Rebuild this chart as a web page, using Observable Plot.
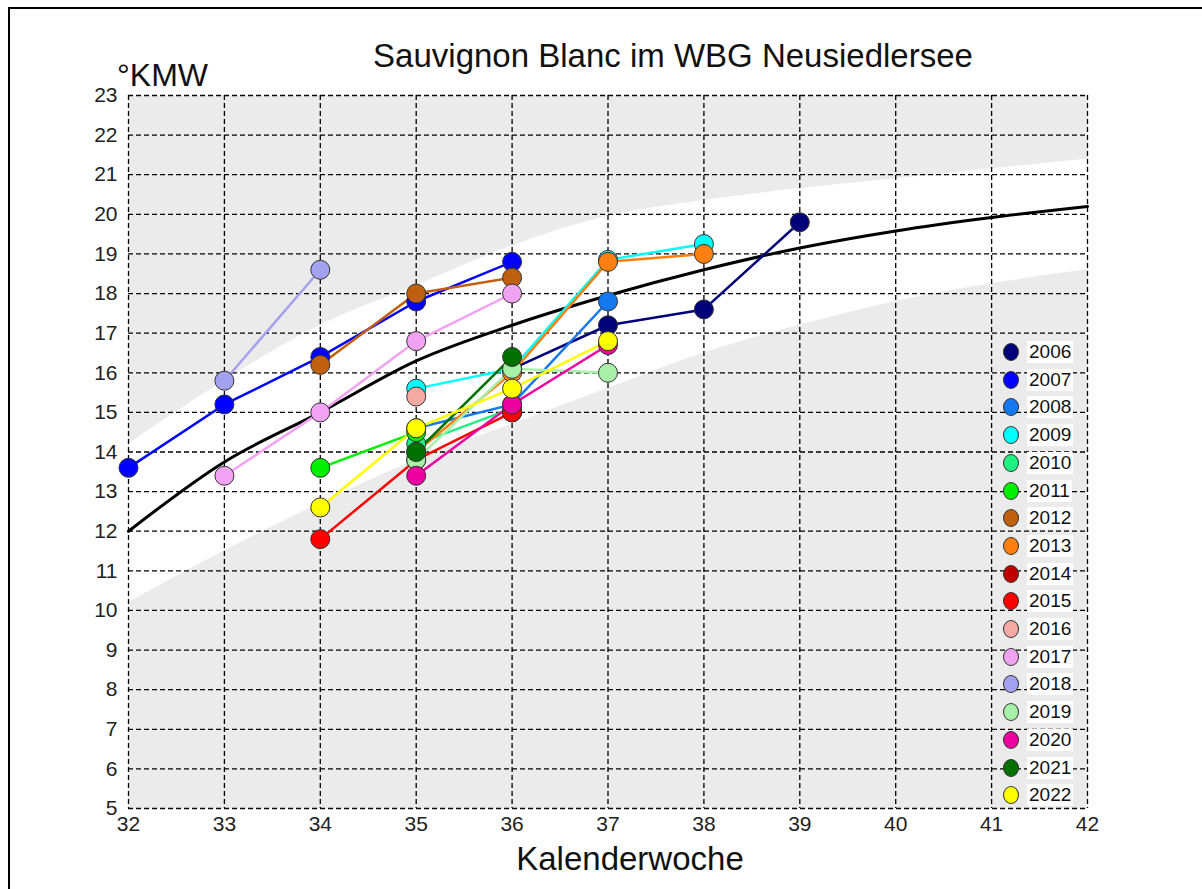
<!DOCTYPE html>
<html><head><meta charset="utf-8">
<script src="https://cdn.jsdelivr.net/npm/d3@7"></script>
<script src="https://cdn.jsdelivr.net/npm/@observablehq/plot@0.6"></script>
<style>
body{margin:0;background:#fff;font-family:"Liberation Sans",Arial,sans-serif;}
#wrap{position:relative;width:1202px;height:889px;overflow:hidden;background:#fff;}
#wrap svg{position:absolute;left:0;top:0;}
.txt{position:absolute;white-space:nowrap;line-height:1;color:#111;}
#border{position:absolute;left:8px;top:7px;right:0;bottom:0;border-top:2px solid #000;border-left:2px solid #000;}
.lg{position:absolute;}
.lg .sw{position:absolute;width:16px;height:18px;border-radius:50%;border:1px solid #333;box-sizing:border-box;}
.lg .lb{position:absolute;background:#fff;font-size:19px;line-height:22px;height:22px;padding:0 2px;color:#111;}
</style></head><body><div id="wrap"><div id="border"></div></div><script>
// Categories
const years = [2006,2007,2008,2009,2010,2011,2012,2013,2014,2015,2016,2017,2018,2019,2020,2021,2022];
const yearColors = ["#00007a","#0000ff","#1478f0","#00ffff","#20f080","#00f000","#c0600f","#ff8010","#c00000","#ff0000","#f4aaa2","#f2a2f2","#a2a2f0","#a8f0a8","#ee00a0","#007000","#ffff00"];
const xTicks = [32,33,34,35,36,37,38,39,40,41,42];
const yTicks = [5,6,7,8,9,10,11,12,13,14,15,16,17,18,19,20,21,22,23];

// Series values (Kalenderwoche, °KMW)
const w2006 = [36,37,38,39],    v2006 = [16.1,17.2,17.6,19.8];
const w2007 = [32,33,34,35,36], v2007 = [13.6,15.2,16.4,17.8,18.8];
const w2008 = [35,36,37],       v2008 = [14.6,15.2,17.8];
const w2009 = [35,36,37,38],    v2009 = [15.6,16.1,18.85,19.25];
const w2010 = [35,36],          v2010 = [14.2,15.1];
const w2011 = [34,35],          v2011 = [13.6,14.5];
const w2012 = [34,35,36],       v2012 = [16.2,18.0,18.4];
const w2013 = [35,36,37,38],    v2013 = [14.0,16.0,18.8,19.0];
const w2014 = [36],             v2014 = [15.0];
const w2015 = [34,35,36],       v2015 = [11.8,13.8,15.0];
const w2016 = [35],             v2016 = [15.4];
const w2017 = [33,34,35,36],    v2017 = [13.4,15.0,16.8,18.0];
const w2018 = [33,34],          v2018 = [15.8,18.6];
const w2019 = [35,36,37],       v2019 = [13.8,16.1,16.0];
const w2020 = [35,36,37],       v2020 = [13.4,15.2,16.7];
const w2021 = [35,36],          v2021 = [14.0,16.4];
const w2022 = [34,35,36,37],    v2022 = [12.6,14.6,15.6,16.8];

// Mean curve and band
const curveWeeks = [32,33,34,35,36,37,38,39,40,41,42];
const curveKMW   = [12.0,13.75,15.0,16.3,17.2,17.95,18.6,19.15,19.58,19.92,20.2];
const bandLow    = [10.2,11.5,12.7,13.8,14.7,15.6,16.5,17.2,17.8,18.25,18.6];
const bandHigh   = [14.2,15.8,17.2,18.2,19.2,19.95,20.35,20.65,20.9,21.15,21.4];

const seriesW = [w2006,w2007,w2008,w2009,w2010,w2011,w2012,w2013,w2014,w2015,w2016,w2017,w2018,w2019,w2020,w2021,w2022];
const seriesV = [v2006,v2007,v2008,v2009,v2010,v2011,v2012,v2013,v2014,v2015,v2016,v2017,v2018,v2019,v2020,v2021,v2022];

const pts = [];
years.forEach((yr,i)=>seriesW[i].forEach((w,j)=>pts.push({year:yr, w, v:seriesV[i][j]})));
const curveRows = curveWeeks.map((w,i)=>({w, v:curveKMW[i]}));
const bandRows = curveWeeks.map((w,i)=>({w, lo:bandLow[i], hi:bandHigh[i]}));

const font = '"Liberation Sans", Arial, sans-serif';
const chart = Plot.plot({
  width:1202, height:889,
  marginLeft:128, marginRight:115, marginTop:95, marginBottom:81,
  style:{fontFamily:font, fontSize:"21px", color:"#222", background:"transparent", overflow:"visible"},
  x:{domain:[32,42], label:null},
  y:{domain:[5,23], label:null},
  color:{type:"ordinal", domain:years, range:yearColors},
  marks:[
    Plot.frame({fill:"#ebebeb", stroke:null}),
    Plot.areaY(bandRows,{x:"w", y1:"lo", y2:"hi", fill:"#fff", curve:"monotone-x"}),
    Plot.gridX(xTicks,{stroke:"#000", strokeOpacity:1, strokeWidth:1.3, strokeDasharray:"5,3"}),
    Plot.gridY(yTicks,{stroke:"#000", strokeOpacity:1, strokeWidth:1.3, strokeDasharray:"5,3"}),
    Plot.line(curveRows,{x:"w", y:"v", stroke:"#000", strokeWidth:3, curve:"monotone-x"}),
    Plot.line(pts,{x:"w", y:"v", z:"year", stroke:"year", strokeWidth:2.5}),
    Plot.dot(pts,{x:"w", y:"v", r:9.5, fill:"year", stroke:"#333", strokeWidth:1}),
    Plot.axisX(xTicks,{tickSize:0, tickPadding:8, fontSize:21, tickFormat:d=>String(d)}),
    Plot.axisY(yTicks,{tickSize:0, tickPadding:11, fontSize:21, tickFormat:d=>String(d)})
  ]
});
const wrap = document.getElementById("wrap");
wrap.insertBefore(chart, wrap.firstChild);

function addText(str, left, top, size, center){
  const d = document.createElement("div");
  d.className = "txt"; d.textContent = str;
  d.style.fontSize = size+"px"; d.style.top = top+"px";
  if(center){ d.style.left = left+"px"; d.style.transform="translateX(-50%)"; }
  else d.style.left = left+"px";
  wrap.appendChild(d);
}
addText("Sauvignon Blanc im WBG Neusiedlersee", 673, 39, 33, true);
addText("°KMW", 117, 59, 32, false);
addText("Kalenderwoche", 630, 842, 33, true);

// Legend
const lg = document.createElement("div"); lg.className="lg"; lg.style.left="0px"; lg.style.top="0px";
years.forEach((yr,i)=>{
  const cy = 352 + i*27.7;
  const sw = document.createElement("div"); sw.className="sw";
  sw.style.left=(1011-8)+"px"; sw.style.top=(cy-9)+"px"; sw.style.background=yearColors[i];
  const lb = document.createElement("div"); lb.className="lb"; lb.textContent=String(yr);
  lb.style.left="1027px"; lb.style.top=(cy-11)+"px";
  lg.appendChild(sw); lg.appendChild(lb);
});
wrap.appendChild(lg);
</script></body></html>
